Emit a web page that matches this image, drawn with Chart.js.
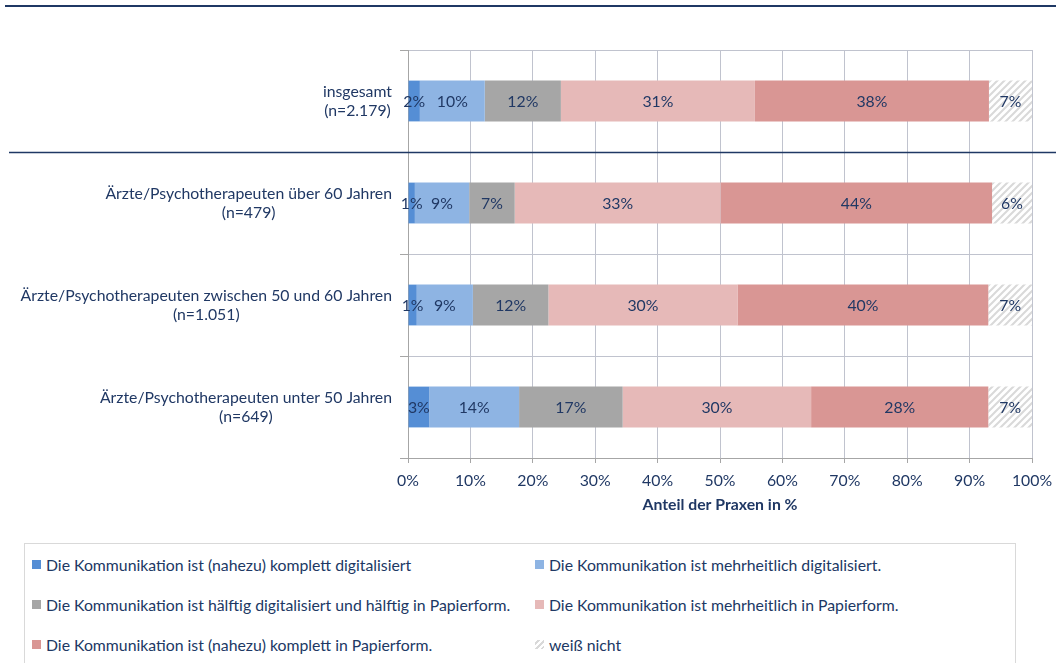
<!DOCTYPE html>
<html lang="de">
<head>
    <meta charset="UTF-8">
    <title>Digitalisierung der Kommunikation</title>
    <script src="https://cdn.jsdelivr.net/npm/chart.js"></script>
    <style>
        body { margin: 0; background: #fff; font-family: Lato, sans-serif; }
        #wrap { position: absolute; left: 0; top: 0; width: 1056px; height: 530px; }
        #legend {
            position: absolute; left: 24px; top: 543px; width: 992px; height: 140px;
            border: 1px solid #D9D9D9; box-sizing: border-box;
            display: grid; grid-template-columns: 503px auto; grid-auto-rows: 40px;
            color: #203864; font-size: 15.8px;
        }
        #legend .item { display: flex; align-items: center; padding-left: 7px; }
        #legend .box { width: 9px; height: 9px; margin-right: 5px; }
    </style>
</head>
<body>
    <div id="wrap"><canvas id="chart"></canvas></div>
    <div id="legend"></div>

    <script>
        // categories (two-line labels)
        const categories = [
            ['insgesamt', '(n=2.179)'],
            ['Ärzte/Psychotherapeuten über 60 Jahren', '(n=479)'],
            ['Ärzte/Psychotherapeuten zwischen 50 und 60 Jahren', '(n=1.051)'],
            ['Ärzte/Psychotherapeuten unter 50 Jahren', '(n=649)']
        ];

        const seriesNames = [
            'Die Kommunikation ist (nahezu) komplett digitalisiert',
            'Die Kommunikation ist mehrheitlich digitalisiert.',
            'Die Kommunikation ist hälftig digitalisiert und hälftig in Papierform.',
            'Die Kommunikation ist mehrheitlich in Papierform.',
            'Die Kommunikation ist (nahezu) komplett in Papierform.',
            'weiß nicht'
        ];

        // shares in % per category
        const komplettDigital = [1.9, 1.1, 1.4, 3.4];
        const mehrDigital = [10.4, 8.7, 9.0, 14.4];
        const haelftig = [12.2, 7.3, 12.1, 16.6];
        const mehrPapier = [31.1, 33.0, 30.3, 30.2];
        const komplettPapier = [37.5, 43.5, 40.2, 28.4];
        const weissNicht = [6.9, 6.4, 7.0, 7.0];

        const xTicks = [0, 10, 20, 30, 40, 50, 60, 70, 80, 90, 100];

        const colors = ['#558ED5', '#8EB4E3', '#A6A6A6', '#E6B9B8', '#D99694', 'hatch'];
        const navy = '#203864';
        const FONT = 'Lato, sans-serif';
        const FS = 15.8;

        // hatch pattern for "weiß nicht"
        function makeHatch() {
            const c = document.createElement('canvas');
            c.width = 7; c.height = 7;
            const g = c.getContext('2d');
            g.fillStyle = '#fff';
            g.fillRect(0, 0, 7, 7);
            g.strokeStyle = '#D9D9D9';
            g.lineWidth = 2;
            g.beginPath();
            g.moveTo(-1, 8); g.lineTo(8, -1);
            g.moveTo(-4.5, 4.5); g.lineTo(4.5, -4.5);
            g.moveTo(2.5, 11.5); g.lineTo(11.5, 2.5);
            g.stroke();
            return g.createPattern(c, 'repeat');
        }
        const hatch = makeHatch();

        const allSeries = [komplettDigital, mehrDigital, haelftig, mehrPapier, komplettPapier, weissNicht];
        const datasets = allSeries.map((vals, i) => ({
            label: seriesNames[i],
            data: vals,
            backgroundColor: colors[i] === 'hatch' ? hatch : colors[i],
            borderWidth: 0,
            barPercentage: 0.4,
            categoryPercentage: 1
        }));

        // value labels in the middle of each segment
        const segLabels = {
            id: 'segLabels',
            afterDatasetsDraw(chart) {
                const ctx = chart.ctx;
                ctx.save();
                ctx.font = FS + 'px ' + FONT;
                ctx.fillStyle = navy;
                ctx.textAlign = 'center';
                ctx.textBaseline = 'middle';
                chart.data.datasets.forEach((ds, i) => {
                    chart.getDatasetMeta(i).data.forEach((bar, j) => {
                        ctx.fillText(Math.round(ds.data[j]) + '%', (bar.x + bar.base) / 2, bar.y + 1);
                    });
                });
                ctx.restore();
            }
        };

        // category labels, block right aligned, lines centred; separator lines
        const decor = {
            id: 'decor',
            afterDraw(chart) {
                const ctx = chart.ctx;
                const y = chart.scales.y;
                ctx.save();
                ctx.font = FS + 'px ' + FONT;
                ctx.fillStyle = navy;
                ctx.textAlign = 'center';
                ctx.textBaseline = 'middle';
                categories.forEach((lines, i) => {
                    const cy = y.getPixelForTick(i);
                    const w = Math.max(...lines.map(l => ctx.measureText(l).width));
                    const cx = chart.chartArea.left - 16 - w / 2;
                    lines.forEach((l, k) => {
                        ctx.fillText(l, cx, cy + (k - (lines.length - 1) / 2) * 19);
                    });
                });

                ctx.strokeStyle = '#1F3864';
                ctx.lineWidth = 2;
                ctx.beginPath();
                ctx.moveTo(5, 6); ctx.lineTo(chart.width, 6);
                ctx.stroke();

                const sepY = Math.round((y.getPixelForTick(0) + y.getPixelForTick(1)) / 2) + 0.5;
                ctx.lineWidth = 1.3;
                ctx.beginPath();
                ctx.moveTo(9, sepY); ctx.lineTo(chart.width, sepY);
                ctx.stroke();
                ctx.restore();
            }
        };

        new Chart(document.getElementById('chart'), {
            type: 'bar',
            data: { labels: categories, datasets: datasets },
            options: {
                indexAxis: 'y',
                responsive: true,
                maintainAspectRatio: false,
                animation: false,
                layout: { padding: { top: 50, right: 24, left: 0, bottom: 12 } },
                plugins: { legend: { display: false }, tooltip: { enabled: false } },
                scales: {
                    x: {
                        stacked: true,
                        min: 0,
                        max: 100,
                        afterBuildTicks: s => { s.ticks = xTicks.map(v => ({ value: v })); },
                        afterFit: s => { s.height = 60; s.paddingRight = 0; s.paddingLeft = 0; },
                        ticks: {
                            callback: v => v + '%',
                            color: navy,
                            font: { family: FONT, size: FS },
                            padding: 8,
                            maxRotation: 0
                        },
                        grid: {
                            color: '#C0C3CE',
                            borderDash: [2, 2],
                            tickBorderDash: [],
                            tickColor: '#A6A6A6',
                            tickLength: 5
                        },
                        border: { color: '#A6A6A6' },
                        title: {
                            display: true,
                            text: 'Anteil der Praxen in %',
                            color: navy,
                            font: { family: FONT, size: FS, weight: 'bold' },
                            padding: { top: 4, bottom: 4 }
                        }
                    },
                    y: {
                        stacked: true,
                        afterFit: s => { s.width = 408; },
                        ticks: { display: false },
                        grid: {
                            color: '#C0C3CE',
                            borderDash: [2, 2],
                            tickBorderDash: [],
                            tickColor: '#A6A6A6',
                            tickLength: 8
                        },
                        border: { color: '#A6A6A6' }
                    }
                }
            },
            plugins: [segLabels, decor]
        });

        // legend box
        const legend = document.getElementById('legend');
        seriesNames.forEach((name, i) => {
            const item = document.createElement('div');
            item.className = 'item';
            const box = document.createElement('span');
            box.className = 'box';
            box.style.background = colors[i] === 'hatch'
                ? 'repeating-linear-gradient(135deg, #fff 0 2px, #D9D9D9 2px 4px)'
                : colors[i];
            const txt = document.createElement('span');
            txt.textContent = name;
            item.appendChild(box);
            item.appendChild(txt);
            legend.appendChild(item);
        });
    </script>
</body>
</html>
